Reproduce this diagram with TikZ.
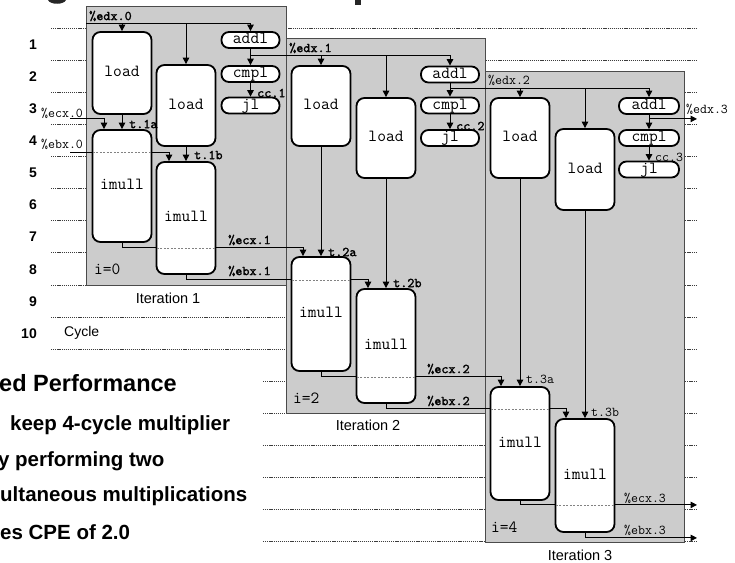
\documentclass[tikz,border=0pt]{standalone}
\usepackage{fontspec}
\setmainfont{Liberation Sans}
\newfontfamily\ttboldfam{lmmono10-regular.otf}[FakeBold=1.6]
\usetikzlibrary{arrows.meta,calc}
\pgfdeclarelayer{bg}
\pgfdeclarelayer{conn}
\pgfdeclarelayer{top}
\pgfsetlayers{bg,conn,main,top}
\definecolor{iterfill}{RGB}{204,204,204}
\definecolor{iterdraw}{RGB}{75,75,75}
\definecolor{gridc}{RGB}{60,60,60}
\definecolor{hidc}{RGB}{130,130,130}
\newcommand{\optxt}{\ttfamily\fontsize{17}{17}\selectfont}
\newcommand{\lbltxt}{\ttfamily\fontsize{13.5}{13.5}\selectfont}
\newcommand{\lblbtxt}{\ttboldfam\fontsize{13.5}{13.5}\selectfont}
\newcommand{\itxt}{\ttfamily\fontsize{17}{17}\selectfont}
\tikzset{
  iterbox/.style={fill=iterfill, draw=iterdraw, line width=0.8pt, inner sep=0pt, outer sep=0pt, anchor=north west},
  opbox/.style={draw=black, fill=white, line width=1.8pt, rounded corners=8pt, minimum width=59pt, inner sep=0pt, text height=8.5pt, text depth=1.5pt, font=\optxt},
  capbox/.style={draw=black, fill=white, line width=1.8pt, rounded corners=7.5pt, minimum width=58pt, minimum height=16pt, inner sep=0pt, text height=8.5pt, text depth=1.5pt, font=\optxt},
  conn/.style={draw=black, line width=1pt},
  arr/.style={conn, -{Triangle[length=6.5pt,width=6.5pt]}},
  hidden/.style={draw=hidc, line width=0.7pt, dash pattern=on 2pt off 1.5pt, shorten <=1.2pt, shorten >=1.2pt},
  gridline/.style={draw=gridc, line width=0.6pt, dash pattern=on 1.2pt off 0.9pt},
  lbl/.style={anchor=west, inner sep=0pt, font=\lbltxt},
  lblb/.style={anchor=west, inner sep=0pt, font=\lblbtxt},
  ilbl/.style={anchor=west, inner sep=0pt, font=\itxt},
  cyc/.style={anchor=east, inner sep=0pt, font=\bfseries\fontsize{14}{14}\selectfont},
  itlbl/.style={inner sep=0pt, font=\fontsize{14.5}{14.5}\selectfont},
  bull/.style={anchor=base west, inner sep=0pt, font=\bfseries\fontsize{20.5}{20.5}\selectfont},
}
\begin{document}
\begin{tikzpicture}[x=1pt,y=-1pt]
\useasboundingbox (0,0) rectangle (735,562);

% ---------- background: cycle grid and iteration panels
\begin{pgfonlayer}{bg}
 \foreach \k in {0,...,10} \draw[gridline] (51,{28+32.1*\k}) -- (697,{28+32.1*\k});
 \foreach \k in {11,...,16} \draw[gridline] (263,{28+32.1*\k}) -- (697,{28+32.1*\k});
 \node[iterbox, minimum width=200pt, minimum height=279pt] (it1) at (86,6) {};
 \node[iterbox, minimum width=199pt, minimum height=375pt] (it2) at (286,38) {};
 \node[iterbox, minimum width=199pt, minimum height=471pt] (it3) at (485,71) {};
\end{pgfonlayer}

% title fragments
\fill[black!85] (48,0) .. controls (50,5) and (64,5) .. (66,0) -- cycle;
\fill[black!85] (355,0) rectangle (361,4.5);

% ---------- operation boxes
\node[opbox, minimum height=82pt] (L1a) at (122,73) {load};
\node[opbox, minimum height=81pt] (L1b) at (186,105.5) {load};
\node[opbox, minimum height=112pt] (M1a) at (122,186) {imull};
\node[opbox, minimum height=112pt] (M1b) at (186,218) {imull};
\node[capbox] (A1) at (250.5,40) {addl};
\node[capbox] (C1) at (250.5,74) {cmpl};
\node[capbox] (J1) at (250.5,105.5) {jl};

\node[opbox, minimum height=80pt] (L2a) at (321,106) {load};
\node[opbox, minimum height=80pt] (L2b) at (386,138) {load};
\node[opbox, minimum height=114pt] (M2a) at (321,314) {imull};
\node[opbox, minimum height=114pt] (M2b) at (386,346) {imull};
\node[capbox] (A2) at (450,74.5) {addl};
\node[capbox] (C2) at (450,105.5) {cmpl};
\node[capbox] (J2) at (450,138) {jl};

\node[opbox, minimum height=80pt] (L3a) at (520,138) {load};
\node[opbox, minimum height=81pt] (L3b) at (585,169.5) {load};
\node[opbox, minimum height=113pt] (M3a) at (520,443.5) {imull};
\node[opbox, minimum height=113pt] (M3b) at (585,475.5) {imull};
\node[capbox, minimum width=60pt] (A3) at (649,106) {addl};
\node[capbox, minimum width=60pt] (C3) at (649,138) {cmpl};
\node[capbox, minimum width=60pt] (J3) at (649,169.5) {jl};

% ---------- helper coordinates
\coordinate (e0) at (86,23);
\coordinate (rend) at (697,0);
\path (A1.south) ++(0,7) coordinate (e1);
\path (A2.south) ++(0,5) coordinate (e2);
\path (A3.south) ++(0,4) coordinate (e3);
\coordinate (c0) at (70,118);
\coordinate (b0) at (70,152);
\path (M1a.south) ++(0,5) coordinate (c1);
\path (M1b.south) ++(0,5) coordinate (b1);
\path (M2a.south) ++(0,5) coordinate (c2);
\path (M2b.south) ++(0,5) coordinate (b2);
\path (M3a.south) ++(0,4) coordinate (c3);
\path (M3b.south) ++(0,5) coordinate (b3);
\path (M1a.north) ++(-18,0) coordinate (M1ain);
\path (M1b.north) ++(-17,0) coordinate (M1bin);
\path (M2a.north) ++(-18,0) coordinate (M2ain);
\path (M2b.north) ++(-18,0) coordinate (M2bin);
\path (M3a.north) ++(-19,0) coordinate (M3ain);
\path (M3b.north) ++(-19,0) coordinate (M3bin);

% ---------- connectors
\begin{pgfonlayer}{conn}
 \draw[arr] (e0) -- (e0 -| A1.north) -- (A1.north);
 \draw[arr] (e0 -| L1a.north) -- (L1a.north);
 \draw[arr] (e0 -| L1b.north) -- (L1b.north);
 \draw[arr] (A1.south) -- (C1.north);
 \draw[arr] (C1.south) -- (J1.north);
 \draw[arr] (e1) -- (e1 -| A2.north) -- (A2.north);
 \draw[arr] (e1 -| L2a.north) -- (L2a.north);
 \draw[arr] (e1 -| L2b.north) -- (L2b.north);
 \draw[arr] (A2.south) -- (C2.north);
 \draw[arr] (C2.south) -- (J2.north);
 \draw[arr] (e2) -- (e2 -| A3.north) -- (A3.north);
 \draw[arr] (e2 -| L3a.north) -- (L3a.north);
 \draw[arr] (e2 -| L3b.north) -- (L3b.north);
 \draw[arr] (A3.south) -- (C3.north);
 \draw[arr] (C3.south) -- (J3.north);
 \draw[arr] (e3) -- (e3 -| rend);
 \draw[arr] (L1a.south) -- (M1a.north);
 \draw[arr] (L1b.south) -- (M1b.north);
 \draw[arr] (L2a.south) -- (M2a.north);
 \draw[arr] (L2b.south) -- (M2b.north);
 \draw[arr] (L3a.south) -- (M3a.north);
 \draw[arr] (L3b.south) -- (M3b.north);
 \draw[arr] (c0) -| (M1ain);
 \draw[arr] (b0) -| (M1bin);
 \draw[arr] (M1a.south) -- (c1) -| (M2ain);
 \draw[arr] (M1b.south) -- (b1) -| (M2bin);
 \draw[arr] (M2a.south) -- (c2) -| (M3ain);
 \draw[arr] (M2b.south) -- (b2) -| (M3bin);
 \draw[arr] (M3a.south) -- (c3) -- (c3 -| rend);
 \draw[arr] (M3b.south) -- (b3) -- (b3 -| rend);
\end{pgfonlayer}

% ---------- connectors seen through the boxes
\begin{pgfonlayer}{top}
 \draw[hidden] (M1a.west |- b0) -- (M1a.east |- b0);
 \draw[hidden] (M1b.west |- c1) -- (M1b.east |- c1);
 \draw[hidden] (M2a.west |- b1) -- (M2a.east |- b1);
 \draw[hidden] (M2b.west |- c2) -- (M2b.east |- c2);
 \draw[hidden] (M3a.west |- b2) -- (M3a.east |- b2);
 \draw[hidden] (M3b.west |- c3) -- (M3b.east |- c3);
\end{pgfonlayer}

% ---------- register labels
\node[lblb] (tE0) at (89,16) {\%edx.0};
\node[lblb] (tE1) at (289,48) {\%edx.1};
\node[lbl]  (tE2) at (488,80) {\%edx.2};
\node[lbl]  (tE3) at (686,109) {\%edx.3};
\node[lblb] (tCC1) at (257,93) {cc.1};
\node[lblb] (tCC2) at (456,126) {cc.2};
\node[lbl]  (tCC3) at (655,157) {cc.3};
\node[lblb] (tT1a) at (129,124) {t.1a};
\node[lblb] (tT1b) at (194,155) {t.1b};
\node[lblb] (tT2a) at (328,252) {t.2a};
\node[lblb] (tT2b) at (393,283) {t.2b};
\node[lbl]  (tT3a) at (526,379) {t.3a};
\node[lbl]  (tT3b) at (591,412) {t.3b};
\node[lbl]  (tC0) at (41,113) {\%ecx.0};
\node[lbl]  (tB0) at (41,144) {\%ebx.0};
\node[lblb] (tC1) at (228,240) {\%ecx.1};
\node[lblb] (tB1) at (228,271) {\%ebx.1};
\node[lblb] (tC2) at (427,369) {\%ecx.2};
\node[lblb] (tB2) at (427,401) {\%ebx.2};
\node[lbl]  (tC3) at (624,498) {\%ecx.3};
\node[lbl]  (tB3) at (624,530) {\%ebx.3};
\node[ilbl] (i0) at (94,269) {i=0};
\node[ilbl] (i2) at (293,398) {i=2};
\node[ilbl] (i4) at (491,527) {i=4};

% ---------- iteration captions, cycle axis
\node[itlbl] (cap1) at (168,298) {Iteration 1};
\node[itlbl] (cap2) at (368,425) {Iteration 2};
\node[itlbl] (cap3) at (580,555) {Iteration 3};
\foreach \n in {1,...,10} \node[cyc] (cy\n) at (37,{44.5+32.1*(\n-1)}) {\n};
\node[anchor=west, inner sep=0pt, font=\fontsize{14}{14}\selectfont] (cyc) at (64,333) {Cycle};

% ---------- slide text
\node[bull, font=\bfseries\fontsize{23.5}{23.5}\selectfont] (s1) at (-1,391.5) {ed Performance};
\node[bull] (s2) at (10,430) {keep 4-cycle multiplier};
\node[bull] (s3) at (-2.1,466) {y performing two};
\node[bull] (s4) at (0,501) {ultaneous multiplications};
\node[bull] (s5) at (0,539) {es CPE of 2.0};
\end{tikzpicture}
\end{document}
